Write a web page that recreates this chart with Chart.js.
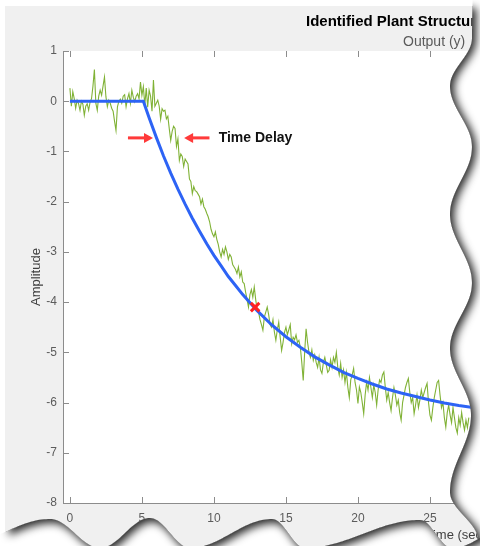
<!DOCTYPE html>
<html>
<head>
<meta charset="utf-8">
<title>Identified Plant Structure</title>
<script src="https://cdn.jsdelivr.net/npm/chart.js@4.4.1/dist/chart.umd.min.js"></script>
<style>
  html, body { margin: 0; padding: 0; background: #fff; overflow: hidden; }
  #wrap { position: relative; width: 480px; height: 546px; }
</style>
</head>
<body>
<div id="wrap"><canvas id="plantChart" width="480" height="546"></canvas></div>
<script>
// measured output, one sample every 0.1 s starting at t = 0
var sampleTime = 0.1;
var measuredY = [
    0.26, -0.10, 0.19, 0.05, -0.14, 0.02, -0.05, -0.18, 0.00, -0.06,
    -0.28, -0.10, -0.05, -0.18, -0.02, 0.05, 0.30, 0.63, -0.04, -0.18,
    0.10, 0.22, 0.12, 0.30, 0.48, 0.09, -0.11, 0.02, -0.04, -0.14,
    -0.20, -0.40, -0.58, -0.11, 0.00, 0.04, -0.04, 0.10, 0.13, -0.11,
    0.05, 0.15, -0.04, 0.22, 0.08, -0.01, 0.10, 0.15, 0.05, 0.38,
    0.12, 0.29, -0.08, 0.26, -0.12, 0.22, 0.10, -0.20, 0.42, -0.10,
    -0.04, 0.02, -0.10, -0.36, -0.15, -0.20, -0.18, -0.35, -0.30, -0.55,
    -0.78, -0.60, -0.50, -0.54, -0.90, -0.75, -1.18, -1.05, -1.10, -1.30,
    -1.15, -1.20, -1.25, -1.55, -1.60, -1.84, -1.70, -1.78, -1.80, -1.85,
    -1.90, -2.05, -1.95, -2.10, -2.15, -2.23, -2.30, -2.40, -2.55, -2.64,
    -2.70, -2.60, -2.75, -2.85, -3.00, -3.10, -2.95, -3.05, -2.90, -3.00,
    -3.15, -3.05, -3.10, -3.25, -3.30, -3.35, -3.43, -3.30, -3.50, -3.40,
    -3.60, -3.63, -3.80, -3.95, -4.10, -3.85, -3.75, -3.90, -3.70, -3.95,
    -4.15, -4.20, -4.35, -4.45, -4.56, -4.30, -4.20, -4.10, -4.25, -4.45,
    -4.50, -4.35, -4.60, -4.76, -4.55, -4.40, -4.70, -4.96, -4.80, -4.60,
    -4.50, -4.65, -4.55, -4.45, -4.83, -4.70, -4.75, -4.65, -4.80, -4.76,
    -4.90, -5.20, -5.56, -5.00, -4.53, -4.80, -5.00, -5.10, -4.95, -5.16,
    -5.05, -5.20, -5.30, -5.10, -5.35, -5.42, -5.20, -5.10, -5.25, -5.40,
    -5.36, -5.15, -5.30, -5.10, -5.20, -5.00, -5.30, -5.45, -5.22, -5.50,
    -5.35, -5.60, -5.40, -5.70, -5.90, -5.55, -5.45, -5.32, -5.60, -5.75,
    -6.02, -5.69, -5.80, -6.00, -6.22, -5.85, -5.60, -5.75, -5.50, -5.70,
    -5.90, -5.65, -5.80, -6.05, -5.75, -5.55, -5.60, -5.45, -5.39, -5.70,
    -5.95, -5.80, -6.00, -6.16, -5.90, -5.70, -5.85, -6.05, -5.95, -6.20,
    -6.35, -6.00, -5.85, -5.70, -5.60, -5.52, -5.80, -6.00, -5.90, -6.22,
    -6.05, -5.85, -6.10, -5.95, -5.75, -5.90, -5.80, -5.70, -5.62, -6.00,
    -6.25, -6.35, -6.10, -5.90, -5.75, -5.60, -5.56, -5.85, -6.10, -6.00,
    -6.30, -6.49, -6.20, -6.05, -6.25, -6.40, -6.10, -6.30, -6.50, -6.61,
    -6.30, -6.45, -6.20, -6.40, -6.55, -6.35, -6.50, -6.30
];

// identified model response
var modelT = [0, 5.1, 5.5, 6, 6.5, 7, 7.5, 8, 8.5, 9, 9.5, 10, 10.5, 11, 11.5, 12, 13, 14, 15, 16, 17, 18, 19, 20, 21, 22, 23, 24, 25, 26, 27, 28];
var modelY = [0, 0, -0.33, -0.72, -1.09, -1.43, -1.75, -2.05, -2.33, -2.59, -2.84, -3.07, -3.28, -3.49, -3.67, -3.85, -4.17, -4.45, -4.69, -4.90, -5.09, -5.25, -5.40, -5.52, -5.63, -5.73, -5.81, -5.88, -5.95, -6.01, -6.06, -6.10];

// marked point on the model curve
var markerT = [12.86];
var markerY = [-4.1];

// "Time Delay" arrows: [tail, tip] in seconds, at amplitude delayArrowY
var delayArrows = [[4.03, 5.77], [9.69, 7.93]];
var delayArrowY = -0.73;
var delayLabelT = 10.33;

var xTicks = [0, 5, 10, 15, 20, 25];
var yTicks = [1, 0, -1, -2, -3, -4, -5, -6, -7, -8];

Chart.defaults.font.family = "'Liberation Sans', Arial, Helvetica, sans-serif";

// torn paper edge, cosine eased between [position, offset] turning points
var rightEdge = [[-30, 473], [38, 472], [86, 450], [147, 472], [214, 450], [283, 472], [348, 450], [415, 471], [492, 450], [540, 478], [620, 462]];
var bottomEdge = [[-40, 545], [50, 519], [100, 548], [150, 518], [190, 548], [272, 519], [305, 548], [420, 520], [452, 548], [520, 520]];

function waveAt(pts, v) {
    for (var i = 0; i < pts.length - 1; i++) {
        var a = pts[i], b = pts[i + 1];
        if (v <= b[0]) {
            var u = Math.max(0, (v - a[0]) / (b[0] - a[0]));
            return a[1] + (b[1] - a[1]) * (1 - Math.cos(Math.PI * u)) / 2;
        }
    }
    return pts[pts.length - 1][1];
}

var paperPlugin = {
    id: 'paper',
    beforeDraw: function(chart) {
        var ctx = chart.ctx, a = chart.chartArea;
        ctx.save();
        ctx.fillStyle = '#ffffff';
        ctx.fillRect(0, 0, chart.width, chart.height);
        ctx.fillStyle = '#f0f0f0';
        ctx.fillRect(5, 6, chart.width - 5, chart.height - 6);
        ctx.fillStyle = '#ffffff';
        ctx.fillRect(a.left, a.top, a.right - a.left, a.bottom - a.top);
        ctx.restore();
    },
    afterDraw: function(chart) {
        var ctx = chart.ctx, a = chart.chartArea;
        var xs = chart.scales.x, ys = chart.scales.y;
        ctx.save();

        // inward tick marks (bottom, top, left)
        ctx.strokeStyle = '#8c8c8c';
        ctx.lineWidth = 1;
        ctx.beginPath();
        xTicks.forEach(function(v) {
            var px = Math.round(xs.getPixelForValue(v)) + 0.5;
            ctx.moveTo(px, a.bottom); ctx.lineTo(px, a.bottom - 6);
            ctx.moveTo(px, a.top); ctx.lineTo(px, a.top + 6);
        });
        yTicks.forEach(function(v) {
            var py = Math.round(ys.getPixelForValue(v)) + 0.5;
            ctx.moveTo(a.left, py); ctx.lineTo(a.left + 6, py);
        });
        ctx.stroke();

        // time delay arrows
        var ay = ys.getPixelForValue(delayArrowY);
        ctx.strokeStyle = '#ff3a3a';
        ctx.fillStyle = '#ff3a3a';
        ctx.lineWidth = 3;
        delayArrows.forEach(function(arr) {
            var x0 = xs.getPixelForValue(arr[0]), x1 = xs.getPixelForValue(arr[1]);
            var dir = x1 > x0 ? 1 : -1;
            ctx.beginPath();
            ctx.moveTo(x0, ay); ctx.lineTo(x1 - dir * 7, ay);
            ctx.stroke();
            ctx.beginPath();
            ctx.moveTo(x1, ay);
            ctx.lineTo(x1 - dir * 9, ay - 5);
            ctx.lineTo(x1 - dir * 9, ay + 5);
            ctx.closePath();
            ctx.fill();
        });
        ctx.fillStyle = '#111';
        ctx.font = "bold 14px 'Liberation Sans', Arial, sans-serif";
        ctx.textAlign = 'left';
        ctx.textBaseline = 'middle';
        ctx.fillText('Time Delay', xs.getPixelForValue(delayLabelT), ay);

        // titles
        ctx.font = "bold 15px 'Liberation Sans', Arial, sans-serif";
        ctx.fillStyle = '#000';
        ctx.fillText('Identified Plant Structure', 306, 22);
        ctx.font = "14px 'Liberation Sans', Arial, sans-serif";
        ctx.fillStyle = '#5a5a5a';
        ctx.fillText('Output (y)', 403, 42);
        ctx.font = "13px 'Liberation Sans', Arial, sans-serif";
        ctx.fillStyle = '#404040';
        ctx.textAlign = 'center';
        ctx.fillText('Time (seconds)', 470, 535);
        ctx.restore();

        tearEdges(ctx, chart.width, chart.height);
    }
};

function tearEdges(ctx, w, h) {
    var y, x;
    // right edge
    var paperR = new Path2D();
    paperR.moveTo(5, 6);
    for (y = 6; y <= h + 40; y += 2) paperR.lineTo(waveAt(rightEdge, y), y);
    paperR.lineTo(5, h + 40);
    paperR.closePath();
    var cutR = new Path2D();
    cutR.moveTo(w + 40, -40);
    for (y = -40; y <= h + 40; y += 2) cutR.lineTo(waveAt(rightEdge, y), y);
    cutR.lineTo(w + 40, h + 40);
    cutR.closePath();
    ctx.save();
    ctx.clip(cutR);
    ctx.fillStyle = '#fff';
    ctx.fill(cutR);
    ctx.shadowColor = 'rgba(0,0,0,0.85)';
    ctx.shadowBlur = 9;
    ctx.shadowOffsetX = 4;
    ctx.shadowOffsetY = 2;
    ctx.fillStyle = '#777';
    ctx.fill(paperR);
    ctx.restore();

    // bottom edge
    var paperB = new Path2D();
    paperB.moveTo(5, 6);
    paperB.lineTo(w + 40, 6);
    for (x = w + 40; x >= 5; x -= 2) paperB.lineTo(x, waveAt(bottomEdge, x));
    paperB.closePath();
    var cutB = new Path2D();
    cutB.moveTo(-40, h + 40);
    for (x = -40; x <= w + 40; x += 2) cutB.lineTo(x, waveAt(bottomEdge, x));
    cutB.lineTo(w + 40, h + 40);
    cutB.closePath();
    ctx.save();
    ctx.clip(cutB);
    ctx.fillStyle = '#fff';
    ctx.fill(cutB);
    ctx.shadowColor = 'rgba(0,0,0,0.85)';
    ctx.shadowBlur = 9;
    ctx.shadowOffsetX = 3;
    ctx.shadowOffsetY = 4;
    ctx.fillStyle = '#777';
    ctx.fill(paperB);
    ctx.restore();
}

var measuredPoints = measuredY.map(function(v, i) {
    return { x: Math.round(i * sampleTime * 100) / 100, y: v };
});
var modelPoints = modelT.map(function(t, i) { return { x: t, y: modelY[i] }; });
var markerPoints = markerT.map(function(t, i) { return { x: t, y: markerY[i] }; });

var ctx = document.getElementById('plantChart').getContext('2d');
var plantChart = new Chart(ctx, {
    type: 'line',
    data: {
        datasets: [{
            label: 'Operating point',
            type: 'scatter',
            data: markerPoints,
            pointStyle: 'crossRot',
            pointRadius: 6,
            borderColor: '#ff2020',
            borderWidth: 3,
            order: 0
        }, {
            label: 'Identified model',
            data: modelPoints,
            borderColor: '#2d63f5',
            borderWidth: 3,
            pointRadius: 0,
            tension: 0,
            order: 1
        }, {
            label: 'Measured',
            data: measuredPoints,
            borderColor: '#80b236',
            borderWidth: 1.1,
            pointRadius: 0,
            tension: 0,
            order: 2
        }]
    },
    options: {
        responsive: false,
        animation: false,
        devicePixelRatio: 1,
        layout: { padding: { top: 51, left: 0, right: 0, bottom: 0 } },
        plugins: {
            legend: { display: false },
            tooltip: { enabled: false },
            title: { display: false }
        },
        scales: {
            x: {
                type: 'linear',
                min: -0.48,
                max: 27.85,
                afterBuildTicks: function(axis) {
                    axis.ticks = xTicks.map(function(v) { return { value: v }; });
                },
                afterFit: function(axis) { axis.height = 43; },
                grid: { display: false, drawTicks: false },
                border: { display: true, color: '#8c8c8c', width: 1 },
                ticks: {
                    color: '#5c5c5c',
                    font: { size: 12 },
                    padding: 8,
                    maxRotation: 0,
                    autoSkip: false
                }
            },
            y: {
                type: 'linear',
                min: -8,
                max: 1,
                afterBuildTicks: function(axis) {
                    axis.ticks = yTicks.map(function(v) { return { value: v }; });
                },
                afterFit: function(axis) { axis.width = 63; },
                grid: { display: false, drawTicks: false },
                border: { display: true, color: '#8c8c8c', width: 1 },
                ticks: {
                    color: '#5c5c5c',
                    font: { size: 12 },
                    padding: 6,
                    autoSkip: false
                },
                title: {
                    display: true,
                    text: 'Amplitude',
                    color: '#404040',
                    font: { size: 13 },
                    padding: { top: 29, bottom: 0 }
                }
            }
        }
    },
    plugins: [paperPlugin]
});
</script>
</body>
</html>
